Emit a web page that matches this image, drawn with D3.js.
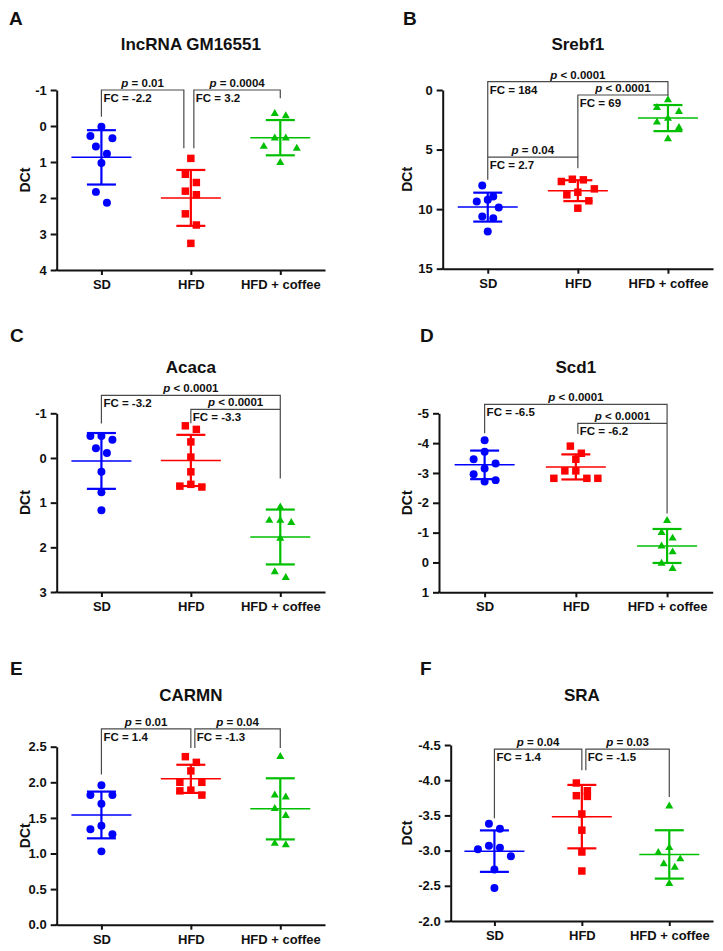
<!DOCTYPE html>
<html><head><meta charset="utf-8">
<script src="https://cdn.jsdelivr.net/npm/d3@7"></script>
<style>
body{margin:0;background:#fff}
svg{display:block;background:#fff}
text{font-family:'Liberation Sans',Arial,sans-serif;font-weight:bold;fill:#111}
</style></head>
<body><svg id="chart" width="723" height="951"></svg>
<script>
// ---------- data ----------
const groups = ["SD", "HFD", "HFD + coffee"];
const genes = ["lncRNA GM16551", "Srebf1", "Acaca", "Scd1", "CARMN", "SRA"];
const letters = ["A", "B", "C", "D", "E", "F"];

const aSD  = [0.02, 0.28, 0.34, 0.57, 0.77, 1.03, 1.83, 2.13];
const aHFD = [0.90, 1.34, 1.57, 1.81, 1.91, 2.44, 2.75, 3.26];
const aCof = [-0.28, -0.34, 0.34, 0.34, 0.57, 0.62, 1.02];

const bSD  = [8.02, 8.94, 9.22, 9.36, 9.86, 10.62, 10.76, 11.87];
const bHFD = [7.49, 7.54, 7.68, 8.30, 8.58, 8.80, 9.30, 9.92];
const bCof = [0.84, 1.48, 1.82, 2.38, 2.71, 3.16, 4.11];

const cSD  = [-0.49, -0.49, -0.41, -0.22, -0.11, 0.31, 0.77, 1.17];
const cHFD = [-0.72, -0.64, -0.36, -0.02, 0.31, 0.59, 0.63, 0.65];
const cCof = [1.10, 1.40, 1.45, 1.40, 1.80, 2.55, 2.68];

const dSD  = [-4.10, -3.71, -3.46, -3.32, -3.15, -2.96, -2.76, -2.71];
const dHFD = [-3.90, -3.66, -3.46, -3.07, -3.07, -2.82, -2.82, -2.82];
const dCof = [-1.40, -1.00, -0.81, -0.55, -0.35, 0.03, 0.21];

const eSD  = [1.96, 1.82, 1.82, 1.70, 1.39, 1.34, 1.27, 1.03];
const eHFD = [2.36, 2.28, 2.16, 2.00, 2.00, 1.89, 1.88, 1.82];
const eCof = [2.36, 1.82, 1.79, 1.63, 1.53, 1.14, 1.12];

const fSD  = [-3.38, -3.31, -3.07, -3.04, -3.02, -2.92, -2.73, -2.47];
const fHFD = [-3.96, -3.85, -3.78, -3.77, -3.52, -3.29, -2.98, -2.71];
const fCof = [-3.63, -3.04, -2.97, -2.88, -2.81, -2.76, -2.53];

// y-axis ticks and labels
const aTicks = [-1, 0, 1, 2, 3, 4];          const aTickLabels = ["-1","0","1","2","3","4"];
const bTicks = [0, 5, 10, 15];               const bTickLabels = ["0","5","10","15"];
const cTicks = [-1, 0, 1, 2, 3];             const cTickLabels = ["-1","0","1","2","3"];
const dTicks = [-5, -4, -3, -2, -1, 0, 1];   const dTickLabels = ["-5","-4","-3","-2","-1","0","1"];
const eTicks = [0, 0.5, 1, 1.5, 2, 2.5];     const eTickLabels = ["0.0","0.5","1.0","1.5","2.0","2.5"];
const fTicks = [-4.5, -4, -3.5, -3, -2.5, -2]; const fTickLabels = ["-4.5","-4.0","-3.5","-3.0","-2.5","-2.0"];

// statistics annotations (bracket heights in axis units)
const aStats = [
  {from:0, to:1, top:-1.0, legs:[-0.26, 0.62], p:"= 0.01",   fc:"-2.2"},
  {from:1, to:2, top:-1.0, legs:[0.62, -0.77], p:"= 0.0004", fc:"3.2"}
];
const bStats = [
  {from:0, to:2, top:-0.70, legs:[5.64, 0.42], p:"< 0.0001", fc:"184"},
  {from:1, to:2, top:0.42,  legs:[5.64, 0.50], p:"< 0.0001", fc:"69"},
  {from:0, to:1, top:5.64,  legs:[7.54, 6.56], p:"= 0.04",   fc:"2.7"}
];
const cStats = [
  {from:0, to:2, top:-1.40, legs:[-0.77, 0.46],  p:"< 0.0001", fc:"-3.2"},
  {from:1, to:2, top:-1.09, legs:[-0.78, -1.09], p:"< 0.0001", fc:"-3.3"}
];
const dStats = [
  {from:0, to:2, top:-5.30, legs:[-4.33, -1.64], p:"< 0.0001", fc:"-6.5"},
  {from:1, to:2, top:-4.66, legs:[-4.31, -4.66], p:"< 0.0001", fc:"-6.2"}
];
const eStats = [
  {from:0, to:1, top:2.75, legs:[2.11, 2.48], p:"= 0.01", fc:"1.4"},
  {from:1, to:2, top:2.75, legs:[2.48, 2.48], p:"= 0.04", fc:"-1.3"}
];
const fStats = [
  {from:0, to:1, top:-4.44, legs:[-3.46, -4.14], p:"= 0.04", fc:"1.4"},
  {from:1, to:2, top:-4.44, legs:[-4.14, -3.76], p:"= 0.03", fc:"-1.5"}
];

// ---------- layout / style ----------
const colors = ["#0000ff", "#ff0000", "#00bf00"];
const shapes = [d3.symbolCircle, d3.symbolSquare, d3.symbolTriangle];
const shapeSize = [50, 56, 28];

const panels = [
  {values:[aSD,aHFD,aCof], stats:aStats, ticks:aTicks, labels:aTickLabels, domain:[-1,4],   x0:56.7,  x1:325, yTop:90,    yBot:270,
   letterXY:[9,25],   titleY:50,    ylabX:30,    nudge:[[0,-7],[3,0]]},
  {values:[bSD,bHFD,bCof], stats:bStats, ticks:bTicks, labels:bTickLabels, domain:[0,15],    x0:442.7, x1:713, yTop:90,    yBot:268.7,
   letterXY:[403,25], titleY:50,    ylabX:411.5, nudge:[[0,0],[0,0],[0,0]]},
  {values:[cSD,cHFD,cCof], stats:cStats, ticks:cTicks, labels:cTickLabels, domain:[-1,3],   x0:56.7,  x1:325, yTop:413.3, yBot:592,
   letterXY:[10,342], titleY:372.5, ylabX:30,    nudge:[[0,0],[0,0]]},
  {values:[dSD,dHFD,dCof], stats:dStats, ticks:dTicks, labels:dTickLabels, domain:[-5,1],   x0:439,   x1:712.7, yTop:413.3, yBot:592.3,
   letterXY:[420,342], titleY:372.5, ylabX:411.5, nudge:[[0,0],[2,0]]},
  {values:[eSD,eHFD,eCof], stats:eStats, ticks:eTicks, labels:eTickLabels, domain:[2.5,0],  x0:56.7,  x1:325, yTop:746.7, yBot:924.7,
   letterXY:[10,675], titleY:701,   ylabX:30,    nudge:[[0,0],[4,0]]},
  {values:[fSD,fHFD,fCof], stats:fStats, ticks:fTicks, labels:fTickLabels, domain:[-4.5,-2], x0:450.7, x1:713, yTop:745,   yBot:921,
   letterXY:[420,675], titleY:701,   ylabX:411.5, nudge:[[0,0],[4,0]]}
];

const LANE = 11;
function swarmOffsets(pys) {
  const idx = pys.map((p, i) => i).sort((a, b) => pys[a] - pys[b]);
  const off = new Array(pys.length).fill(0);
  let cl = [];
  const flush = () => {
    const n = cl.length, lanes = [];
    if (n % 2) { lanes.push(0); for (let k = 1; lanes.length < n; k++) lanes.push(-k, k); }
    else { for (let k = 0.5; lanes.length < n; k++) lanes.push(-k, k); }
    cl.forEach((i, j) => off[i] = lanes[j] * LANE);
    cl = [];
  };
  idx.forEach(i => {
    if (cl.length && (pys[i] - pys[cl[0]] >= 12 || pys[i] - pys[cl[cl.length - 1]] >= 11.5)) flush();
    cl.push(i);
  });
  flush();
  return off;
}

const svg = d3.select("#chart");

panels.forEach((P, pi) => {
  const g = svg.append("g");
  const x = d3.scalePoint().domain(groups).range([P.x0, P.x1]).padding(0.5);
  const y = d3.scaleLinear().domain(P.domain).range([P.yTop, P.yBot]);

  // panel letter + title
  g.append("text").attr("x", P.letterXY[0]).attr("y", P.letterXY[1])
    .style("font-size", "19px").text(letters[pi]);
  g.append("text").attr("x", x(groups[1])).attr("y", P.titleY)
    .attr("text-anchor", "middle").style("font-size", "17px").text(genes[pi]);

  // y axis
  const ya = g.append("g").attr("transform", `translate(${P.x0},0)`)
    .call(d3.axisLeft(y).tickValues(P.ticks).tickFormat((d, i) => P.labels[i])
      .tickSize(6).tickSizeOuter(0).tickPadding(4));
  // x axis
  const xa = g.append("g").attr("transform", `translate(0,${P.yBot})`)
    .call(d3.axisBottom(x).tickSize(5).tickSizeOuter(0));
  [ya, xa].forEach(a => {
    a.select(".domain").attr("stroke", "#111").attr("stroke-width", 2);
    a.selectAll(".tick line").attr("stroke", "#111").attr("stroke-width", 2);
    a.selectAll("text").attr("fill", "#111").style("font-family", "'Liberation Sans',Arial,sans-serif")
      .style("font-weight", "bold").style("font-size", "13px");
  });
  xa.selectAll("text").attr("dy", null).attr("y", 19);
  // bottom-left corner join
  g.append("line").attr("x1", P.x0 - 1).attr("x2", P.x0 + 1).attr("y1", P.yBot).attr("y2", P.yBot)
    .attr("stroke", "#111").attr("stroke-width", 2);

  // y label
  g.append("text").attr("transform", `translate(${P.ylabX},${(P.yTop + P.yBot) / 2}) rotate(-90)`)
    .attr("text-anchor", "middle").style("font-size", "14px").text("DCt");

  // brackets
  P.stats.forEach((s, si) => {
    const nd = P.nudge[si] || [0, 0];
    const xa1 = x(groups[s.from]) + nd[0], xb1 = x(groups[s.to]) + nd[1];
    const yt = y(s.top);
    g.append("path")
      .attr("d", `M${xa1},${y(s.legs[0])}V${yt}H${xb1}V${y(s.legs[1])}`)
      .attr("fill", "none").attr("stroke", "#4a4a4a").attr("stroke-width", 1.2);
    const pt = g.append("text").attr("x", (xa1 + xb1) / 2).attr("y", yt - 3)
      .attr("text-anchor", "middle").style("font-size", "11.5px");
    pt.append("tspan").style("font-style", "italic").text("p");
    pt.append("tspan").text(" " + s.p);
    g.append("text").attr("x", xa1 + 2).attr("y", yt + 12).style("font-size", "11.5px")
      .text("FC = " + s.fc);
  });

  // groups: points + mean ± SD
  P.values.forEach((vals, gi) => {
    const cx = x(groups[gi]);
    const col = colors[gi];
    const pys = vals.map(v => y(v));
    const off = swarmOffsets(pys);
    const m = d3.mean(vals), sd = d3.deviation(vals);
    const gg = g.append("g");
    gg.append("line").attr("x1", cx).attr("x2", cx).attr("y1", y(m - sd)).attr("y2", y(m + sd))
      .attr("stroke", col).attr("stroke-width", 2.2);
    [m - sd, m + sd].forEach(v => gg.append("line")
      .attr("x1", cx - 14.5).attr("x2", cx + 14.5).attr("y1", y(v)).attr("y2", y(v))
      .attr("stroke", col).attr("stroke-width", 2.2));
    gg.append("line").attr("x1", cx - 30).attr("x2", cx + 30).attr("y1", y(m)).attr("y2", y(m))
      .attr("stroke", col).attr("stroke-width", 1.5);
    gg.selectAll("path.pt").data(vals).join("path").attr("class", "pt")
      .attr("d", d3.symbol().type(shapes[gi]).size(shapeSize[gi]))
      .attr("transform", (d, i) => `translate(${cx + off[i]},${y(d)})`)
      .attr("fill", col);
  });
});
</script></body></html>
